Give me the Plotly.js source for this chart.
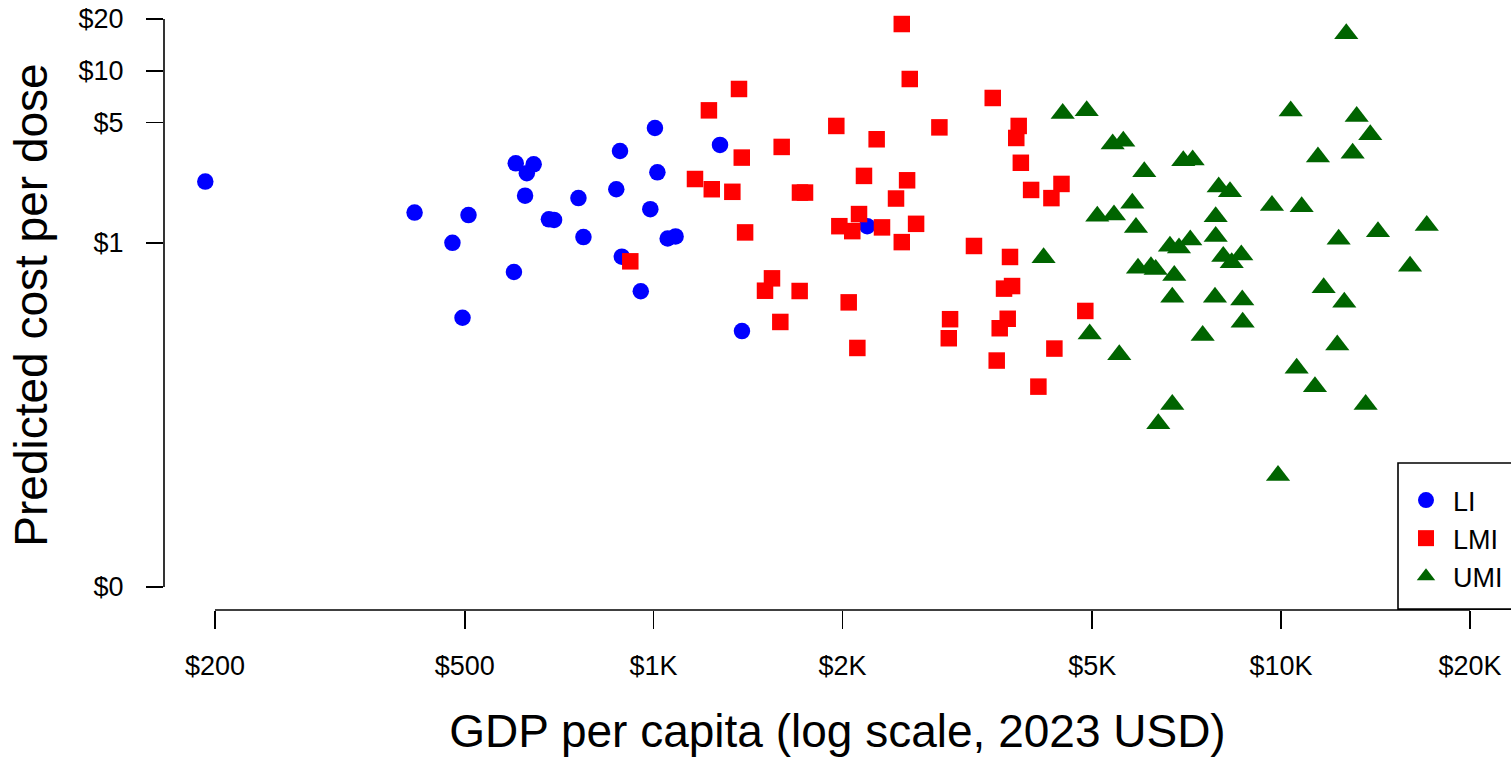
<!DOCTYPE html>
<html><head><meta charset="utf-8">
<script src="https://cdn.plot.ly/plotly-3.0.1.min.js"></script>
<style>html,body{margin:0;padding:0;background:#fff}#chart{width:1511px;height:760px}</style>
</head><body><div id="chart"></div>
<script>
// ---- data ----
const groupNames = ["LI", "LMI", "UMI"];

const liGDP  = [193, 416, 478, 496, 507, 599, 603, 624, 628, 644, 681, 694, 759, 773, 872, 884, 890, 954, 988, 1005, 1014, 1053, 1084, 1276, 1383, 2190];
const liCost = [2.27, 1.50, 1.00, 0.367, 1.45, 0.677, 2.90, 1.88, 2.54, 2.86, 1.37, 1.36, 1.82, 1.08, 2.05, 3.42, 0.831, 0.523, 1.57, 4.65, 2.57, 1.06, 1.09, 3.71, 0.307, 1.25];

const lmiGDP  = [918, 1164, 1225, 1238, 1335, 1368, 1382, 1399, 1505, 1544, 1592, 1600, 1709, 1711, 1743, 1955, 1977, 2046, 2073, 2112, 2125, 2164, 2267, 2312, 2434, 2486, 2486, 2535, 2560, 2620, 2854, 2954, 2968, 3240, 3471, 3522, 3561, 3618, 3667, 3698, 3726, 3784, 3818, 3848, 3996, 4104, 4305, 4352, 4467, 4875];
const lmiCost = [0.781, 2.35, 5.89, 2.05, 1.98, 7.84, 3.13, 1.15, 0.527, 0.622, 0.347, 3.61, 0.525, 1.96, 1.96, 4.78, 1.25, 0.451, 1.17, 0.245, 1.47, 2.45, 4.00, 1.23, 1.81, 1.01, 18.7, 2.31, 8.96, 1.29, 4.69, 0.279, 0.360, 0.959, 6.95, 0.207, 0.319, 0.542, 0.362, 0.828, 0.561, 4.07, 4.78, 2.92, 2.03, 0.146, 1.82, 0.243, 2.20, 0.402];

const umiGDP  = [4183, 4487, 4900, 4954, 5094, 5390, 5416, 5522, 5604, 5792, 5871, 5915, 6053, 6203, 6311, 6372, 6651, 6708, 6757, 6708, 6875, 6984, 7166, 7229, 7499, 7953, 7846, 7866, 7866, 8088, 8290, 8342, 8641, 8672, 8685, 9671, 9887, 10358, 10588, 10784, 11323, 11448, 11690, 12289, 12352, 12609, 12702, 13003, 13196, 13638, 13871, 14268, 16050, 17065];
const umiCost = [0.820, 5.65, 5.86, 0.295, 1.43, 3.75, 1.45, 0.224, 3.89, 1.70, 1.23, 0.711, 2.59, 0.727, 0.701, 0.0888, 0.954, 0.483, 0.645, 0.115, 0.935, 3.00, 1.04, 3.03, 0.289, 2.11, 0.483, 1.42, 1.09, 0.834, 1.98, 0.767, 0.850, 0.466, 0.346, 1.65, 0.0444, 5.83, 0.187, 1.62, 0.146, 3.15, 0.548, 0.255, 1.05, 0.452, 16.4, 3.32, 5.43, 0.115, 4.25, 1.16, 0.730, 1.26];

const xTickVals = [200, 500, 1000, 2000, 5000, 10000, 20000];
const xTickText = ["$200", "$500", "$1K", "$2K", "$5K", "$10K", "$20K"];
const yTickVals = [0.01, 1, 5, 10, 20];
const yTickText = ["$0", "$1", "$5", "$10", "$20"];

// ---- layout ----
const FONT = "Liberation Sans, Arial, Helvetica, sans-serif";
const xRange = [2.21976, 4.36637];
const yRange = [-2.13382, 1.41146];
const xPaper = v => (Math.log10(v) - xRange[0]) / (xRange[1] - xRange[0]);
const yPaper = v => (Math.log10(v) - yRange[0]) / (yRange[1] - yRange[0]);

const traces = [
  {x: liGDP, y: liCost, name: groupNames[0], type: "scatter", mode: "markers",
   marker: {symbol: "circle", size: 16.5, color: "#0000FF", line: {width: 0}}},
  {x: lmiGDP, y: lmiCost, name: groupNames[1], type: "scatter", mode: "markers",
   marker: {symbol: "square", size: 16.5, color: "#FF0000", line: {width: 0}}},
  {x: umiGDP, y: umiCost, name: groupNames[2], type: "scatter", mode: "markers",
   marker: {symbol: "triangle-up", size: 21, color: "#006400", line: {width: 0}}}
];

const axisLine = {color: "#000", width: 1.6};
const layout = {
  width: 1511, height: 760,
  margin: {l: 164, r: 0, t: 0, b: 150, pad: 0},
  paper_bgcolor: "#fff", plot_bgcolor: "#fff",
  font: {family: FONT, color: "#000", size: 27},
  showlegend: true,
  legend: {
    x: (1399 - 164) / 1347, xanchor: "left",
    y: (610 - 476) / 610, yanchor: "top",
    bgcolor: "rgba(0,0,0,0)", borderwidth: 0,
    itemwidth: 44, font: {family: FONT, size: 27, color: "#000"},
    tracegroupgap: 0
  },
  xaxis: {
    type: "log", range: xRange, autorange: false,
    tickvals: xTickVals, ticktext: xTickText,
    ticks: "outside", ticklen: 18, tickwidth: 1.6, tickcolor: "#000",
    ticklabelstandoff: 14,
    showline: false, showgrid: false, zeroline: false,
    tickfont: {family: FONT, size: 27, color: "#000"},
    title: {text: "GDP per capita (log scale, 2023 USD)", font: {family: FONT, size: 46, color: "#000"}, standoff: 34}
  },
  yaxis: {
    type: "log", range: yRange, autorange: false,
    tickvals: yTickVals, ticktext: yTickText,
    ticks: "outside", ticklen: 17, tickwidth: 1.6, tickcolor: "#000",
    ticklabelstandoff: 17,
    showline: false, showgrid: false, zeroline: false,
    tickfont: {family: FONT, size: 27, color: "#000"},
    title: {text: "Predicted cost per dose", font: {family: FONT, size: 46, color: "#000"}, standoff: 16}
  },
  shapes: [
    {type: "line", xref: "paper", yref: "paper",
     x0: xPaper(xTickVals[0]), x1: xPaper(xTickVals[xTickVals.length - 1]), y0: 0, y1: 0, line: axisLine},
    {type: "line", xref: "paper", yref: "paper",
     x0: 0, x1: 0, y0: yPaper(yTickVals[0]), y1: yPaper(yTickVals[yTickVals.length - 1]), line: axisLine},
    {type: "rect", xref: "paper", yref: "paper",
     x0: (1398 - 164) / 1347, x1: 1.05, y0: 0.0015, y1: (610 - 463) / 610,
     line: {color: "#000", width: 1.6}, fillcolor: "rgba(0,0,0,0)"}
  ]
};

Plotly.newPlot("chart", traces, layout, {displayModeBar: false, staticPlot: true});
</script>
</body></html>
